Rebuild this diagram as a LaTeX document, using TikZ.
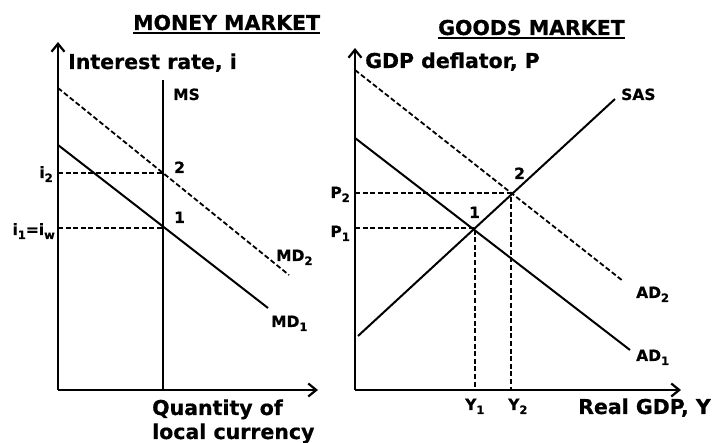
\documentclass[tikz,border=0pt]{standalone}
\usepackage{fontspec}
\setmainfont{DejaVu Sans}[BoldFeatures={FakeBold=0.6}]
\usetikzlibrary{arrows.meta}
\newcommand\sbx[1]{\raisebox{-4pt}{\fontsize{11.5}{11}\selectfont #1}}
\begin{document}
\begin{tikzpicture}[x=1pt,y=-1pt,
  big/.style={font=\fontsize{20.5}{24}\selectfont\bfseries, inner sep=0pt},
  ttl/.style={font=\fontsize{20.5}{24}\selectfont\bfseries, inner sep=0pt},
  lbl/.style={font=\fontsize{15.5}{18}\selectfont\bfseries, inner sep=0pt},
  axis/.style={line width=2.8pt, -{Straight Barb[length=8pt,width=13pt,line width=2.2pt]}},
  curve/.style={line width=2pt},
  dcurve/.style={line width=1.8pt, dash pattern=on 5pt off 2.6pt},
  guide/.style={line width=1.8pt, dash pattern=on 5pt off 2.6pt}]
\useasboundingbox (0,0) rectangle (716,443);
% ---------- Money market ----------
\coordinate (o1) at (58,390);
\coordinate (y1top) at (58,42);
\coordinate (x1end) at (318,390);
\coordinate (msT) at (163,80);
\coordinate (msB) at (163,390);
\coordinate (md2a) at (58,88);
\coordinate (md2b) at (289,275);
\coordinate (md1a) at (58,145);
\coordinate (md1b) at (268,308);
\coordinate (e2L) at (163,173);
\coordinate (e1L) at (163,228);
\coordinate (i2ax) at (58,173);
\coordinate (i1ax) at (58,228);
\draw[curve] (msT) -- (msB);
\draw[dcurve] (md2a) -- (md2b);
\draw[curve] (md1a) -- (md1b);
\draw[guide] (i2ax) -- (e2L);
\draw[guide] (i1ax) -- (e1L);
\draw[axis] (o1) -- (y1top);
\draw[axis] (o1) -- (x1end);
\node[ttl, anchor=base west] (t1) at (133,30) {MONEY MARKET};
\draw[line width=2.2pt] ([yshift=-3pt]t1.base west) -- ([yshift=-3pt]t1.base east);
\node[big, anchor=base west] (yl1) at (68,69) {Interest rate, i};
\node[big, anchor=base west] (xl1a) at (152,415) {Quantity of};
\node[big, anchor=base west] (xl1b) at (152,439) {local currency};
\node[lbl, anchor=base west] (ms) at (173,100) {MS};
\node[lbl, anchor=base west] (md2) at (276,261) {MD\sbx{2}};
\node[lbl, anchor=base west] (md1) at (271,327) {MD\sbx{1}};
\node[lbl, anchor=base east] (i2) at (53,178) {i\sbx{2}};
\node[lbl, anchor=base east] (i1) at (55,235) {i\sbx{1}=i\sbx{w}};
\node[lbl, anchor=base west] (n2L) at (174,173) {2};
\node[lbl, anchor=base west] (n1L) at (174,223) {1};
% ---------- Goods market ----------
\coordinate (o2) at (355,390);
\coordinate (y2top) at (355,48);
\coordinate (x2end) at (681,390);
\coordinate (ad2a) at (355,70);
\coordinate (ad2b) at (623,281);
\coordinate (ad1a) at (355,138);
\coordinate (ad1b) at (630,350);
\coordinate (sasa) at (358,336);
\coordinate (sasb) at (615,99);
\coordinate (e2R) at (511,193);
\coordinate (e1R) at (475,228);
\coordinate (p2ax) at (355,193);
\coordinate (p1ax) at (355,228);
\coordinate (y2ax) at (511,390);
\coordinate (y1ax) at (475,390);
\draw[dcurve] (ad2a) -- (ad2b);
\draw[curve] (ad1a) -- (ad1b);
\draw[curve] (sasa) -- (sasb);
\draw[guide] (p2ax) -- (e2R) -- (y2ax);
\draw[guide] (p1ax) -- (e1R) -- (y1ax);
\draw[axis] (o2) -- (y2top);
\draw[axis] (o2) -- (x2end);
\node[ttl, anchor=base west] (t2) at (438,35) {GOODS MARKET};
\draw[line width=2.2pt] ([yshift=-3pt]t2.base west) -- ([yshift=-3pt]t2.base east);
\node[big, anchor=base west] (yl2) at (365,68) {GDP deflator, P};
\node[big, anchor=base west] (xl2) at (578,414) {Real GDP, Y};
\node[lbl, anchor=base west] (sas) at (621,100) {SAS};
\node[lbl, anchor=base west] (ad2) at (636,298) {AD\sbx{2}};
\node[lbl, anchor=base west] (ad1) at (636,361) {AD\sbx{1}};
\node[lbl, anchor=base east] (p2) at (350,198) {P\sbx{2}};
\node[lbl, anchor=base east] (p1) at (350,237) {P\sbx{1}};
\node[lbl, anchor=base west] (yy1) at (465,410) {Y\sbx{1}};
\node[lbl, anchor=base west] (yy2) at (508,410) {Y\sbx{2}};
\node[lbl, anchor=base west] (n2R) at (514,179) {2};
\node[lbl, anchor=base west] (n1R) at (469,218) {1};
\end{tikzpicture}
\end{document}
